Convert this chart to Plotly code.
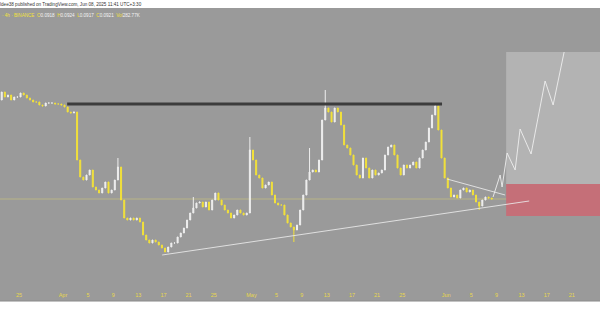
import plotly.graph_objects as go
import pandas as pd

# ---------------- data (12h candles) ----------------
first_open = 0.1119
closes = [
    0.1135, 0.1125, 0.1129, 0.1119, 0.1125, 0.1125, 0.1133, 0.1129, 0.1123, 0.1119,
    0.1115, 0.1115, 0.1109, 0.1107, 0.1113, 0.1113, 0.1113, 0.1111, 0.1111, 0.1109,
    0.1105, 0.1095, 0.1093, 0.1095, 0.0999, 0.0965, 0.0959, 0.0969, 0.0979, 0.0945,
    0.0939, 0.0933, 0.0943, 0.0955, 0.0933, 0.0939, 0.0959, 0.0985, 0.0919, 0.0883,
    0.0879, 0.0883, 0.0879, 0.0883, 0.0875, 0.0849, 0.0839, 0.0833, 0.0839, 0.0835,
    0.0829, 0.0823, 0.0815, 0.0825, 0.0833, 0.0833, 0.0845, 0.0853, 0.0863, 0.0879,
    0.0893, 0.0903, 0.0913, 0.0915, 0.0905, 0.0915, 0.0899, 0.0919, 0.0933, 0.0919,
    0.0909, 0.0899, 0.0893, 0.0883, 0.0889, 0.0899, 0.0893, 0.0889, 0.0893, 0.1019,
    0.0999, 0.0969, 0.0963, 0.0943, 0.0949, 0.0955, 0.0929, 0.0913, 0.0909, 0.0909,
    0.0889, 0.0873, 0.0865, 0.0859, 0.0869, 0.0899, 0.0929, 0.0959, 0.0975, 0.0979,
    0.0975, 0.0999, 0.1079, 0.1103, 0.1095, 0.1075, 0.1103, 0.1095, 0.1069, 0.1029,
    0.1023, 0.1009, 0.0989, 0.0969, 0.0963, 0.1003, 0.0983, 0.0963, 0.0979, 0.0969,
    0.0973, 0.0979, 0.1009, 0.1025, 0.1029, 0.1009, 0.0983, 0.0969, 0.0989, 0.0983,
    0.0989, 0.0995, 0.0983, 0.1003, 0.1019, 0.1035, 0.1063, 0.1089, 0.1107, 0.1059,
    0.1003, 0.0963, 0.0943, 0.0925, 0.0929, 0.0923, 0.0939, 0.0943,
    0.0935, 0.0939, 0.0929, 0.0915, 0.0907, 0.0919, 0.0925, 0.0923, 0.0921,
]
wick_highs = {37: 0.1003, 61: 0.0925, 79: 0.1045, 98: 0.1023, 103: 0.1139, 138: 0.1113}
wick_lows = {93: 0.0835, 152: 0.0899}

last_price = 0.0921

resistance_x = ["2025-04-01 16:00", "2025-05-31 08:00"]
resistance_y = [0.1111, 0.1111]
support_x = ["2025-04-16 19:00", "2025-06-14 05:00"]
support_y = [0.0809, 0.0917]
wedge_x = ["2025-06-01 03:00", "2025-06-10 09:00"]
wedge_y = [0.0961, 0.0929]

box_x = ["2025-06-10 13:00", "2025-06-30 00:00"]
target_y = [0.0951, 0.1215]
stop_y = [0.0887, 0.0951]

proj_x = ["2025-06-08 11:00", "2025-06-09 14:00", "2025-06-09 21:30", "2025-06-10 16:40",
          "2025-06-11 23:20", "2025-06-12 18:15", "2025-06-14 12:15", "2025-06-16 17:45",
          "2025-06-18 00:30", "2025-06-19 18:30"]
proj_y = [0.0925, 0.0969, 0.0945, 0.1013, 0.0979, 0.1061, 0.1011, 0.1157, 0.1109, 0.1215]

tick_dates = ["2025-03-25", "2025-04-01", "2025-04-05", "2025-04-09", "2025-04-13",
              "2025-04-17", "2025-04-21", "2025-04-25", "2025-05-01", "2025-05-05",
              "2025-05-09", "2025-05-13", "2025-05-17", "2025-05-21", "2025-05-25",
              "2025-06-01", "2025-06-05", "2025-06-09", "2025-06-13", "2025-06-17",
              "2025-06-21", "2025-06-25"]
tick_labels = ["25", "Apr", "5", "9", "13", "17", "21", "25", "May", "5", "9", "13",
               "17", "21", "25", "Jun", "5", "9", "13", "17", "21", "25"]

header_1 = "ldee38 published on TradingView.com, Jun 08, 2025 11:41 UTC+3:30"
ohlc_labels = ["O", "H", "L", "C", "Vol"]
ohlc_values = ["0.0918", "0.0924", "0.0917", "0.0921", "282.77K"]

# ---------------- build ----------------
times = pd.date_range("2025-03-22 06:00", periods=len(closes), freq="12h")
opens = [first_open] + closes[:-1]
highs = [max(o, c) for o, c in zip(opens, closes)]
lows = [min(o, c) for o, c in zip(opens, closes)]
for k, v in wick_highs.items():
    highs[k] = v
for k, v in wick_lows.items():
    lows[k] = v

BG = "#9a9a9a"
YEL = "#f2e13a"
WHT = "#efefef"

fig = go.Figure()
fig.add_trace(go.Candlestick(
    x=times, open=opens, high=highs, low=lows, close=closes,
    increasing=dict(line=dict(color=WHT, width=1), fillcolor=WHT),
    decreasing=dict(line=dict(color=YEL, width=1), fillcolor=YEL),
    whiskerwidth=0, showlegend=False, hoverinfo="skip",
))

shapes = [
    dict(type="rect", xref="x", yref="y", x0=box_x[0], x1=box_x[1], y0=target_y[0], y1=target_y[1],
         fillcolor="#b3b3b3", line=dict(width=0), layer="below"),
    dict(type="rect", xref="x", yref="y", x0=box_x[0], x1=box_x[1], y0=stop_y[0], y1=stop_y[1],
         fillcolor="#c56f78", line=dict(width=0), layer="below"),
    dict(type="line", xref="paper", yref="y", x0=0, x1=1, y0=last_price, y1=last_price,
         line=dict(color="rgba(225,215,110,0.45)", width=1), layer="below"),
    dict(type="rect", xref="paper", yref="paper", x0=-0.01, x1=1.01, y0=1.0, y1=1.1,
         fillcolor="white", line=dict(width=0), layer="above"),
    dict(type="rect", xref="paper", yref="paper", x0=-0.01, x1=1.01, y0=-0.0465, y1=-0.2,
         fillcolor="white", line=dict(width=0), layer="above"),
    dict(type="line", xref="paper", yref="paper", x0=0, x1=1, y0=-0.0465, y1=-0.0465,
         line=dict(color="#8c8c8c", width=1), layer="above"),
]
fig.update_layout(shapes=shapes)

fig.add_trace(go.Scatter(x=resistance_x, y=resistance_y, mode="lines",
                         line=dict(color="#3c3c3c", width=3), showlegend=False, hoverinfo="skip"))
fig.add_trace(go.Scatter(x=support_x, y=support_y, mode="lines",
                         line=dict(color="rgba(235,235,235,0.85)", width=1), showlegend=False, hoverinfo="skip"))
fig.add_trace(go.Scatter(x=wedge_x, y=wedge_y, mode="lines",
                         line=dict(color="rgba(235,235,235,0.85)", width=1), showlegend=False, hoverinfo="skip"))
fig.add_trace(go.Scatter(x=proj_x, y=proj_y, mode="lines",
                         line=dict(color="rgba(238,238,238,0.9)", width=1), showlegend=False, hoverinfo="skip"))

ohlc_html = "<span style='color:%s'>· 4h · BINANCE</span>" % YEL
for lab, val in zip(ohlc_labels, ohlc_values):
    ohlc_html += "  <span style='color:%s'>%s</span><span style='color:#f4f4f4'>%s</span>" % (YEL, lab, val)

fig.add_annotation(text=header_1, xref="paper", yref="paper", x=-0.004, y=(288 - 4) / 280,
                   xanchor="left", yanchor="middle", showarrow=False,
                   font=dict(family="Liberation Sans", size=4.6, color="#333333"))
fig.add_annotation(text=ohlc_html, xref="paper", yref="paper", x=0.0, y=(288 - 15.5) / 280,
                   xanchor="left", yanchor="middle", showarrow=False,
                   font=dict(family="Liberation Sans", size=4.6, color=YEL))

fig.update_layout(
    width=600, height=315,
    margin=dict(l=0, r=0, t=8, b=27),
    paper_bgcolor=BG, plot_bgcolor=BG,
    showlegend=False,
    boxgap=0.55,
    xaxis=dict(range=["2025-03-21 23:30", "2025-06-25 11:30"], rangeslider=dict(visible=False),
               showgrid=False, zeroline=False, showline=False,
               tickmode="array", tickvals=tick_dates, ticktext=tick_labels,
               ticks="", ticklabelstandoff=2,
               tickfont=dict(family="Liberation Sans", size=5.5, color="#e8d84c")),
    yaxis=dict(range=[0.0743, 0.1303], showgrid=False, zeroline=False, showline=False,
               showticklabels=False, ticks=""),
)

fig.write_html("out.html")
